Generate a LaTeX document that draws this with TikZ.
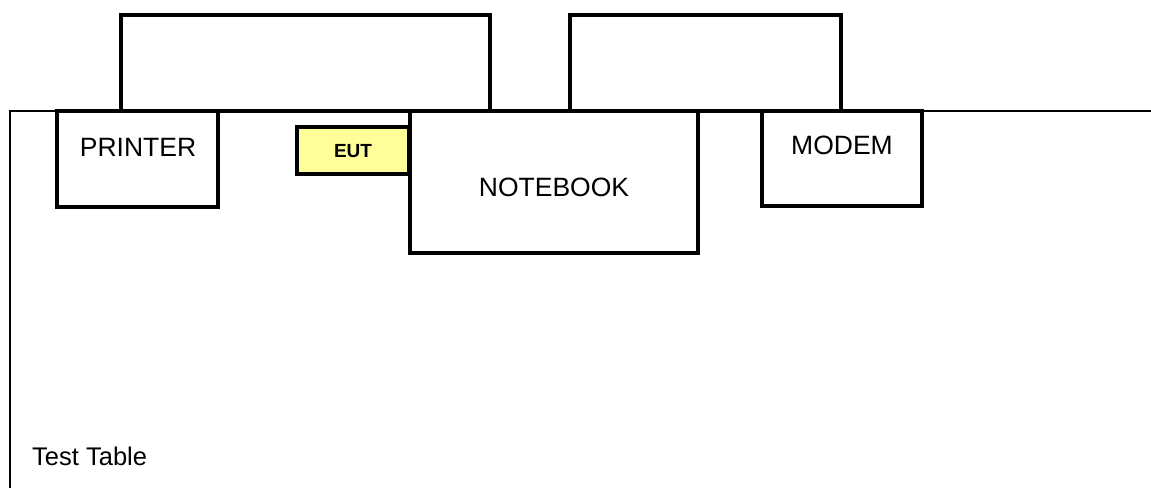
\documentclass[tikz,border=0pt]{standalone}
\usepackage{fontspec}
\setmainfont{Liberation Sans}
\begin{document}
\begin{tikzpicture}[x=1pt,y=-1pt,
  box/.style={draw=black,line width=3.4pt,fill=white,anchor=north west,inner sep=0pt,outer sep=0pt},
  lbl/.style={font=\fontsize{26.5}{30}\selectfont,inner sep=0pt,anchor=center},
  eutbox/.style={draw=black,line width=3.4pt,fill=eutyellow,anchor=north west,inner sep=0pt,outer sep=0pt}]
\definecolor{eutyellow}{HTML}{FFFF99}
\useasboundingbox (0,0) rectangle (1151,488);
% table
\coordinate (tbl) at (10,488);
\coordinate (tcorner) at (10,111);
\coordinate (tend) at (1151,111);
\draw[line width=2.6pt] (tbl) -- (tcorner) -- (tend);
% upper boxes
\node[box,minimum width=369pt,minimum height=96pt] (cab1) at (121,15) {};
\node[box,minimum width=271pt,minimum height=96pt] (cab2) at (570,15) {};
% devices
\node[box,minimum width=161pt,minimum height=96pt] (printer) at (57,111) {};
\node[lbl] at (138,147) {PRINTER};
\node[box,minimum width=288pt,minimum height=142pt] (notebook) at (410,111) {};
\node[lbl] at (554,187) {NOTEBOOK};
\node[box,minimum width=160pt,minimum height=95pt] (modem) at (762,111) {};
\node[lbl] at (842,145) {MODEM};
\node[eutbox,minimum width=112pt,minimum height=47pt] (eut) at (297,127) {};
\node[font=\fontsize{19}{22}\selectfont\bfseries,inner sep=0pt] at (353,151) {EUT};
\node[font=\fontsize{25.5}{30}\selectfont,inner sep=0pt,anchor=west] (tt) at (32,456) {Test Table};
\end{tikzpicture}
\end{document}
